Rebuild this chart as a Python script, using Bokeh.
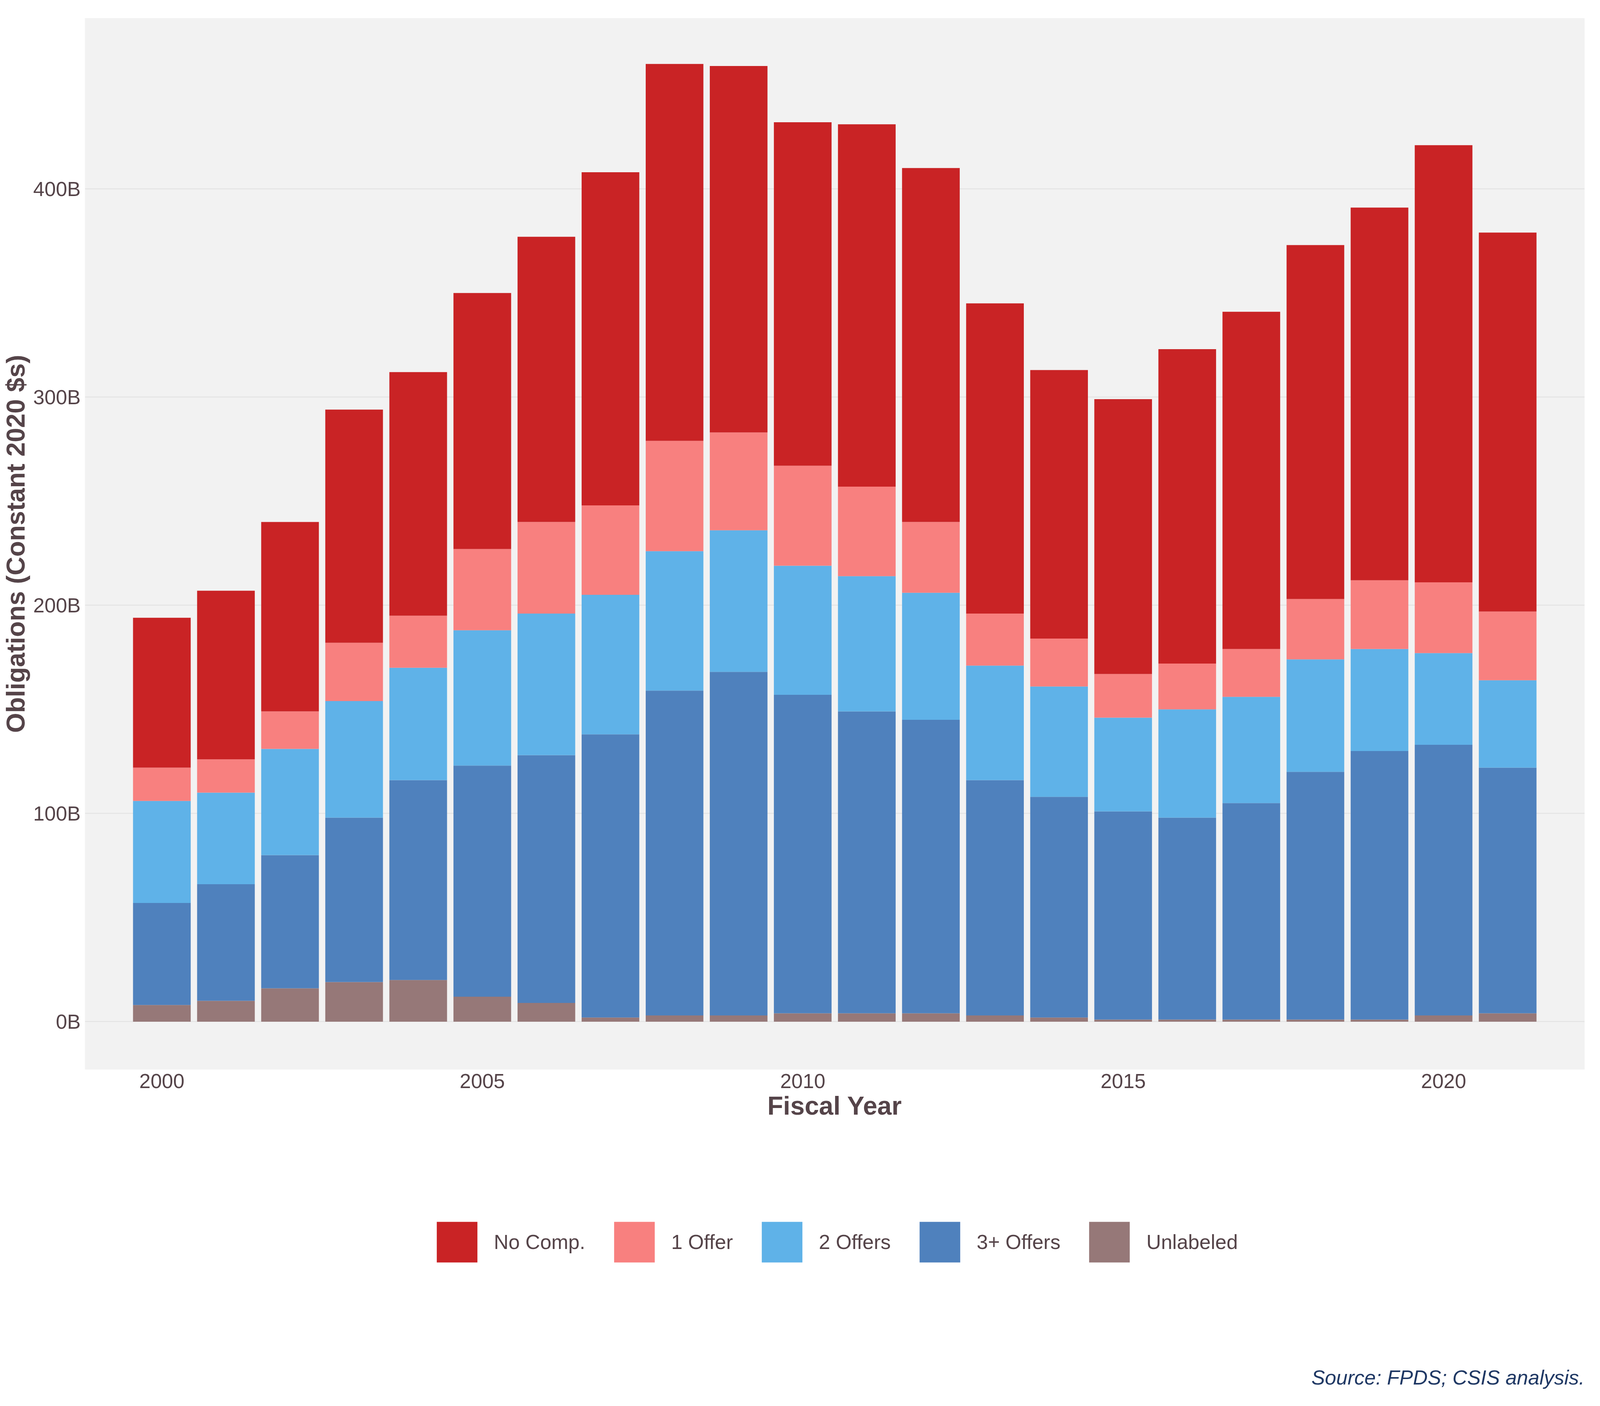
from bokeh.plotting import figure
from bokeh.models import Legend, LegendItem, CustomJSTickFormatter, Title, ColumnDataSource, Range1d
from bokeh.embed import file_html
from bokeh.resources import INLINE

# Obligations by competition category, billions of constant 2020 dollars
years = list(range(2000, 2022))
unlabeled = [8, 10, 16, 19, 20, 12, 9, 2, 3, 3, 4, 4, 4, 3, 2, 1, 1, 1, 1, 1, 3, 4]
offers_3 = [49, 56, 64, 79, 96, 111, 119, 136, 156, 165, 153, 145, 141, 113, 106, 100, 97, 104, 119, 129, 130, 118]
offers_2 = [49, 44, 51, 56, 54, 65, 68, 67, 67, 68, 62, 65, 61, 55, 53, 45, 52, 51, 54, 49, 44, 42]
offer_1 = [16, 16, 18, 28, 25, 39, 44, 43, 53, 47, 48, 43, 34, 25, 23, 21, 22, 23, 29, 33, 34, 33]
no_comp = [72, 81, 91, 112, 117, 123, 137, 160, 181, 176, 165, 174, 170, 149, 129, 132, 151, 162, 170, 179, 210, 182]

keys = ["unlabeled", "offers_3", "offers_2", "offer_1", "no_comp"]
names = ["Unlabeled", "3+ Offers", "2 Offers", "1 Offer", "No Comp."]
colors = ["#967878", "#4F81BD", "#5FB2E8", "#F8807F", "#C92325"]

source = ColumnDataSource(data=dict(x=years, unlabeled=unlabeled, offers_3=offers_3,
                                    offers_2=offers_2, offer_1=offer_1, no_comp=no_comp))

txt = "#554449"
p = figure(height=3560, sizing_mode="stretch_width", output_backend="svg", toolbar_location=None,
           x_range=Range1d(1998.8, 2022.2), y_range=Range1d(-23, 482),
           x_axis_label="Fiscal Year", y_axis_label="Obligations (Constant 2020 $s)",
           min_border_left=40, min_border_right=40, min_border_top=46)
p.background_fill_color = "#F2F2F2"
p.border_fill_color = "white"
p.outline_line_color = None

rs = p.vbar_stack(keys, x="x", width=0.9, source=source, color=colors, line_color=None)

p.xgrid.grid_line_color = None
p.ygrid.grid_line_color = "#E6E6E6"
p.ygrid.grid_line_width = 3
p.ygrid.minor_grid_line_color = "#EBEBEB"
p.ygrid.minor_grid_line_width = 2
p.yaxis.ticker = [0, 100, 200, 300, 400]
p.yaxis.ticker.num_minor_ticks = 2
p.xaxis.ticker = [2000, 2005, 2010, 2015, 2020]
p.yaxis.formatter = CustomJSTickFormatter(code="return tick + 'B';")
for ax in [p.xaxis[0], p.yaxis[0]]:
    ax.axis_line_color = None
    ax.major_tick_line_color = None
    ax.minor_tick_line_color = None
    ax.major_label_text_font_size = "52px"
    ax.major_label_text_color = txt
    ax.major_label_text_font = "Arial"
    ax.axis_label_text_font_size = "66px"
    ax.axis_label_text_font_style = "bold"
    ax.axis_label_text_color = txt
    ax.axis_label_text_font = "Arial"

items = [LegendItem(label=names[i], renderers=[rs[i]]) for i in range(4, -1, -1)]
legend = Legend(items=items, orientation="horizontal", location="center",
                label_text_font_size="52px", label_text_color=txt, label_text_font="Arial",
                glyph_width=130, glyph_height=130, label_standoff=30, spacing=60,
                border_line_color=None, margin=60, padding=10)
p.add_layout(legend, "below")

p.add_layout(Title(text="Source: FPDS; CSIS analysis.", align="right", text_font_style="italic",
                   text_font_size="52px", text_color="#1F3864", text_font="Arial"), "below")

open("out.html", "w").write(file_html(p, INLINE))
